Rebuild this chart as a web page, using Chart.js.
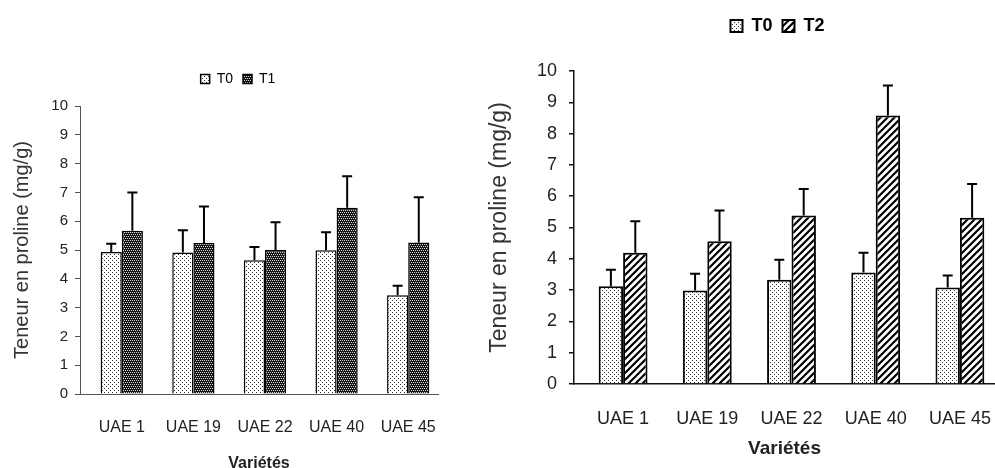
<!DOCTYPE html>
<html>
<head>
<meta charset="utf-8">
<script src="https://cdn.jsdelivr.net/npm/chart.js@4.4.0/dist/chart.umd.min.js"></script>
<style>
  html, body { margin: 0; padding: 0; background: #fff; }
  body { width: 995px; height: 468px; position: relative; overflow: hidden; }
  .panel { position: absolute; }
</style>
</head>
<body>
<div class="panel" style="left:0;top:60px;width:460px;height:420px"><canvas id="left-chart"></canvas></div>
<div class="panel" style="left:480px;top:0;width:515px;height:468px"><canvas id="right-chart"></canvas></div>
<script>
// data
const VARIETES = ['UAE 1', 'UAE 19', 'UAE 22', 'UAE 40', 'UAE 45'];
const Y_TICKS = [0, 1, 2, 3, 4, 5, 6, 7, 8, 9, 10];

// left panel: T0 vs T1
const T0_LEFT     = [4.93, 4.91, 4.64, 4.99, 3.43];
const T0_LEFT_ERR = [0.29, 0.78, 0.46, 0.63, 0.33];
const T1_VALUES   = [5.67, 5.24, 5.00, 6.47, 5.26];
const T1_ERR      = [1.33, 1.27, 0.96, 1.09, 1.57];

// right panel: T0 vs T2
const T0_RIGHT     = [3.12, 2.99, 3.33, 3.56, 3.08];
const T0_RIGHT_ERR = [0.53, 0.53, 0.64, 0.63, 0.39];
const T2_VALUES    = [4.19, 4.56, 5.38, 8.58, 5.31];
const T2_ERR       = [1.01, 0.98, 0.85, 0.96, 1.08];

const FONT = "'Liberation Sans', Arial, sans-serif";

function makePattern(ctx, size, draw) {
  const c = document.createElement('canvas');
  c.width = c.height = size;
  draw(c.getContext('2d'), size);
  return ctx.createPattern(c, 'repeat');
}

const dots = ctx => makePattern(ctx, 4, (g, s) => {
  g.fillStyle = '#fff'; g.fillRect(0, 0, s, s);
  g.fillStyle = '#333';
  g.fillRect(0, 0, 1, 1); g.fillRect(2, 2, 1, 1);
});
const darkCheck = ctx => makePattern(ctx, 4, (g, s) => {
  g.fillStyle = '#161616'; g.fillRect(0, 0, s, s);
  g.fillStyle = '#d8d8d8';
  g.fillRect(0, 0, 1, 1); g.fillRect(2, 0, 1, 1);
  g.fillRect(1, 2, 1, 1); g.fillRect(3, 2, 1, 1);
});
const hatch = ctx => makePattern(ctx, 7, (g, s) => {
  g.fillStyle = '#fff'; g.fillRect(0, 0, s, s);
  g.strokeStyle = '#000'; g.lineWidth = 2.2;
  g.beginPath();
  g.moveTo(0, s); g.lineTo(s, 0);
  g.moveTo(-s / 2, s / 2); g.lineTo(s / 2, -s / 2);
  g.moveTo(s / 2, s * 1.5); g.lineTo(s * 1.5, s / 2);
  g.stroke();
});

// upward error bars with a cap
const errorBars = {
  id: 'errorBars',
  afterDatasetsDraw(chart, args, opts) {
    const { ctx } = chart;
    const y = chart.scales.y;
    ctx.save();
    ctx.strokeStyle = '#000';
    ctx.lineWidth = opts.width;
    chart.data.datasets.forEach((ds, i) => {
      chart.getDatasetMeta(i).data.forEach((bar, j) => {
        const top = y.getPixelForValue(ds.data[j] + ds.errors[j]);
        ctx.beginPath();
        ctx.moveTo(bar.x, bar.y);
        ctx.lineTo(bar.x, top);
        ctx.moveTo(bar.x - opts.cap, top);
        ctx.lineTo(bar.x + opts.cap, top);
        ctx.stroke();
      });
    });
    ctx.restore();
  },
};

// legend spacing / offset, and the small shift of the bar groups seen in the original
const tweaks = {
  id: 'tweaks',
  beforeInit(chart) {
    const gap = chart.options.plugins.tweaks.gap;
    const fit = chart.legend.fit;
    chart.legend.fit = function () {
      fit.bind(chart.legend)();
      this.height += gap;
    };
  },
  afterLayout(chart, args, opts) {
    chart.legend.left += opts.legendDx;
    chart.legend.right += opts.legendDx;
    const x = chart.scales.x;
    x._startPixel += opts.barsDx;
    x._endPixel += opts.barsDx;
  },
};

function drawPanel(id, series, s) {
  const canvas = document.getElementById(id);
  const ctx = canvas.getContext('2d');
  const datasets = series.map(d => ({
    label: d.label,
    data: d.data,
    errors: d.errors,
    backgroundColor: d.fill(ctx),
    borderColor: '#000',
    borderWidth: s.border,
    barPercentage: 1,
    categoryPercentage: s.catPct,
  }));

  return new Chart(canvas, {
    type: 'bar',
    data: { labels: VARIETES, datasets },
    plugins: [errorBars, tweaks],
    options: {
      responsive: true,
      maintainAspectRatio: false,
      animation: false,
      layout: { padding: { top: s.padTop, right: s.padRight, left: 0, bottom: 0 } },
      plugins: {
        tooltip: { enabled: false },
        errorBars: { width: s.errWidth, cap: s.cap },
        tweaks: { gap: s.legendGap, legendDx: s.legendDx, barsDx: s.barsDx },
        legend: {
          position: 'top',
          fullSize: false,
          labels: {
            color: '#000',
            boxWidth: s.box,
            boxHeight: s.box,
            padding: 10,
            font: { family: FONT, size: s.legendSize, weight: s.legendWeight },
          },
        },
      },
      scales: {
        x: {
          grid: { display: false, drawTicks: false },
          border: { color: s.axisColor, width: s.axisWidth },
          ticks: { color: '#222', padding: s.xTickPad, font: { family: FONT, size: s.xTickSize } },
          title: {
            display: true,
            text: 'Variétés',
            color: '#222',
            padding: { top: 0, bottom: s.xTitlePad },
            font: { family: FONT, size: s.xTitleSize, weight: 'bold' },
          },
          afterFit: sc => { sc.height = s.xHeight; sc.paddingLeft = 0; sc.paddingRight = 0; },
        },
        y: {
          min: Y_TICKS[0],
          max: Y_TICKS[Y_TICKS.length - 1],
          afterBuildTicks: sc => { sc.ticks = Y_TICKS.map(v => ({ value: v })); },
          grid: { drawOnChartArea: false, tickLength: 5, color: s.axisColor, lineWidth: s.axisWidth },
          border: { color: s.axisColor, width: s.axisWidth },
          ticks: { color: '#222', padding: s.yTickPad, font: { family: FONT, size: s.yTickSize } },
          title: {
            display: true,
            text: 'Teneur en proline (mg/g)',
            color: '#333',
            padding: { top: s.yTitlePad, bottom: 0 },
            font: { family: FONT, size: s.yTitleSize },
          },
          afterFit: sc => { sc.width = s.yWidth; },
        },
      },
    },
  });
}

drawPanel('left-chart', [
  { label: 'T0', data: T0_LEFT, errors: T0_LEFT_ERR, fill: dots },
  { label: 'T1', data: T1_VALUES, errors: T1_ERR, fill: darkCheck },
], {
  padTop: 2, padRight: 22, legendGap: 10, legendDx: -21, barsDx: 6,
  box: 9, legendSize: 14, legendWeight: 'normal',
  catPct: 0.59, border: 1.5, errWidth: 2, cap: 5,
  axisColor: '#555', axisWidth: 1,
  xTickPad: 24, xTickSize: 16, xTitleSize: 16, xTitlePad: 7, xHeight: 86,
  yTickPad: 7, yTickSize: 15, yTitleSize: 20, yTitlePad: 10, yWidth: 80,
});

drawPanel('right-chart', [
  { label: 'T0', data: T0_RIGHT, errors: T0_RIGHT_ERR, fill: dots },
  { label: 'T2', data: T2_VALUES, errors: T2_ERR, fill: hatch },
], {
  padTop: 7, padRight: 0, legendGap: 26, legendDx: -7, barsDx: 7,
  box: 12, legendSize: 18, legendWeight: 'bold',
  catPct: 0.58, border: 2, errWidth: 2, cap: 5,
  axisColor: '#111', axisWidth: 1.5,
  xTickPad: 24, xTickSize: 18, xTitleSize: 19, xTitlePad: 8, xHeight: 84,
  yTickPad: 12, yTickSize: 18, yTitleSize: 23, yTitlePad: 6, yWidth: 94,
});
</script>
</body>
</html>
